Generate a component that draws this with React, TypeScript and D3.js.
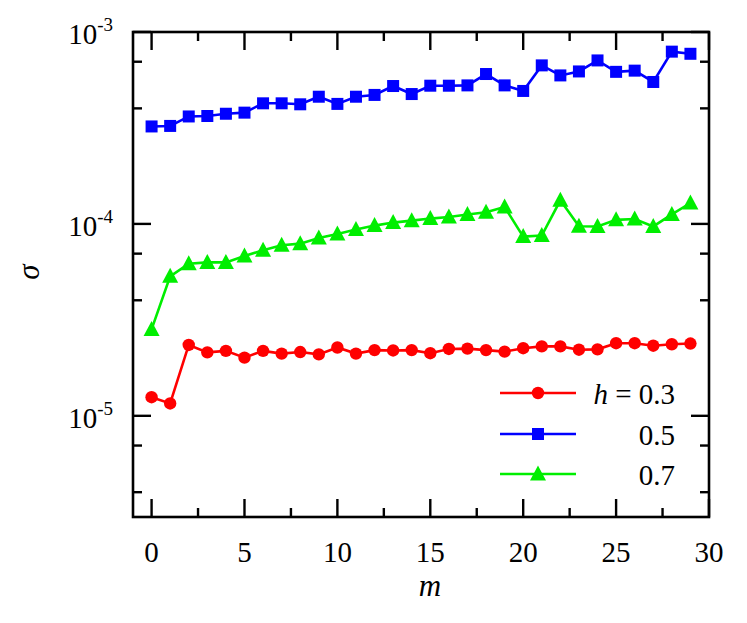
import * as d3 from "d3";

const mValues = d3.range(0, 30);

const sigmaH03 = [
  1.25e-5, 1.16e-5, 2.34e-5, 2.14e-5, 2.18e-5, 2.01e-5, 2.18e-5, 2.11e-5, 2.15e-5, 2.09e-5,
  2.27e-5, 2.11e-5, 2.2e-5, 2.19e-5, 2.2e-5, 2.12e-5, 2.23e-5, 2.24e-5, 2.2e-5, 2.16e-5,
  2.25e-5, 2.3e-5, 2.3e-5, 2.21e-5, 2.22e-5, 2.39e-5, 2.39e-5, 2.32e-5, 2.36e-5, 2.38e-5,
];

const sigmaH05 = [
  3.22e-4, 3.24e-4, 3.63e-4, 3.65e-4, 3.75e-4, 3.8e-4, 4.25e-4, 4.25e-4, 4.2e-4, 4.6e-4,
  4.22e-4, 4.6e-4, 4.7e-4, 5.23e-4, 4.75e-4, 5.25e-4, 5.25e-4, 5.27e-4, 6.04e-4, 5.27e-4,
  4.93e-4, 6.7e-4, 5.94e-4, 6.23e-4, 7.11e-4, 6.2e-4, 6.29e-4, 5.49e-4, 7.9e-4, 7.7e-4,
];

const sigmaH07 = [
  2.82e-5, 5.33e-5, 6.2e-5, 6.3e-5, 6.3e-5, 6.8e-5, 7.29e-5, 7.74e-5, 7.89e-5, 8.45e-5,
  8.87e-5, 9.34e-5, 9.8e-5, 1.016e-4, 1.04e-4, 1.066e-4, 1.087e-4, 1.12e-4, 1.149e-4, 1.226e-4,
  8.59e-5, 8.7e-5, 1.327e-4, 9.72e-5, 9.7e-5, 1.05e-4, 1.06e-4, 9.7e-5, 1.12e-4, 1.285e-4,
];

const xMajorTicks = [0, 5, 10, 15, 20, 25, 30];
const xMinorTicks = [2.5, 7.5, 12.5, 17.5, 22.5, 27.5];
const yMajorTicks = [1e-5, 1e-4, 1e-3];
const yMajorExponents = ["-5", "-4", "-3"];
const yMinorTicks = [4e-6, 7e-6, 4e-5, 7e-5, 4e-4, 7e-4];

const series = [
  { label: "0.3", values: sigmaH03, color: "#ff0000", marker: "circle" },
  { label: "0.5", values: sigmaH05, color: "#0000ff", marker: "square" },
  { label: "0.7", values: sigmaH07, color: "#00ee00", marker: "triangle" },
];

const W = 747;
const H = 623;
const margin = { top: 32, right: 38, bottom: 106, left: 133 };
const FONT = '"Liberation Serif", "DejaVu Serif", serif';

function Marker({ type, x, y, color }: { type: string; x: number; y: number; color: string }) {
  if (type === "circle") return <circle cx={x} cy={y} r={6.2} fill={color} />;
  if (type === "square") return <rect x={x - 6} y={y - 6} width={12} height={12} fill={color} />;
  const s = 7.5;
  return (
    <path
      d={`M${x},${y - s - 1}L${x + s + 0.5},${y + s - 1}L${x - s - 0.5},${y + s - 1}Z`}
      fill={color}
    />
  );
}

export default function App() {
  const x = d3.scaleLinear().domain([-1, 30]).range([margin.left, W - margin.right]);
  const y = d3
    .scaleLog()
    .domain([2.97e-6, 1e-3])
    .range([H - margin.bottom, margin.top]);

  const line = d3
    .line<number>()
    .x((_, i) => x(mValues[i]))
    .y((d) => y(d));

  const left = margin.left;
  const right = W - margin.right;
  const top = margin.top;
  const bottom = H - margin.bottom;

  const legendX1 = 500;
  const legendX2 = 576;
  const legendYs = [393, 434, 474];

  const textStyle = { fontFamily: FONT };

  return (
    <svg
      width={W}
      height={H}
      style={{ position: "absolute", left: 0, top: 0, background: "#fff", fontFamily: FONT }}
    >
      {/* data */}
      {series.map((s) => (
        <g key={s.label}>
          <path d={line(s.values) ?? ""} fill="none" stroke={s.color} strokeWidth={2.6} />
          {s.values.map((v, i) => (
            <Marker key={i} type={s.marker} x={x(mValues[i])} y={y(v)} color={s.color} />
          ))}
        </g>
      ))}

      {/* frame */}
      <rect x={left} y={top} width={right - left} height={bottom - top} fill="none" stroke="#000" strokeWidth={2.6} />

      {/* x ticks */}
      {xMajorTicks.map((t) => (
        <g key={"xM" + t}>
          <line x1={x(t)} x2={x(t)} y1={bottom} y2={bottom - 18} stroke="#000" strokeWidth={2.4} />
          <line x1={x(t)} x2={x(t)} y1={top} y2={top + 18} stroke="#000" strokeWidth={2.4} />
          <text x={x(t)} y={bottom + 45} textAnchor="middle" fontSize={29} style={textStyle}>
            {t}
          </text>
        </g>
      ))}
      {xMinorTicks.map((t) => (
        <g key={"xm" + t}>
          <line x1={x(t)} x2={x(t)} y1={bottom} y2={bottom - 9} stroke="#000" strokeWidth={2.4} />
          <line x1={x(t)} x2={x(t)} y1={top} y2={top + 9} stroke="#000" strokeWidth={2.4} />
        </g>
      ))}

      {/* y ticks */}
      {yMajorTicks.map((t, i) => (
        <g key={"yM" + t}>
          <line x1={left} x2={left + 18} y1={y(t)} y2={y(t)} stroke="#000" strokeWidth={2.4} />
          <line x1={right} x2={right - 18} y1={y(t)} y2={y(t)} stroke="#000" strokeWidth={2.4} />
          <text x={113} y={y(t) + 12} textAnchor="end" fontSize={29} style={textStyle}>
            10
            <tspan dy={-13} fontSize={19}>
              {yMajorExponents[i]}
            </tspan>
          </text>
        </g>
      ))}
      {yMinorTicks.map((t) => (
        <g key={"ym" + t}>
          <line x1={left} x2={left + 9} y1={y(t)} y2={y(t)} stroke="#000" strokeWidth={2.4} />
          <line x1={right} x2={right - 9} y1={y(t)} y2={y(t)} stroke="#000" strokeWidth={2.4} />
        </g>
      ))}

      {/* axis titles */}
      <text x={430} y={596} textAnchor="middle" fontSize={31} fontStyle="italic" style={textStyle}>
        m
      </text>
      <text
        transform={`translate(28, 272) rotate(-90)`}
        textAnchor="middle"
        dominantBaseline="central"
        fontSize={31}
        fontStyle="italic"
        style={textStyle}
      >
        σ
      </text>

      {/* legend */}
      {series.map((s, i) => (
        <g key={"leg" + s.label}>
          <line x1={legendX1} x2={legendX2} y1={legendYs[i]} y2={legendYs[i]} stroke={s.color} strokeWidth={2.6} />
          <Marker type={s.marker} x={(legendX1 + legendX2) / 2} y={legendYs[i]} color={s.color} />
          <text x={675} y={legendYs[i] + 11} textAnchor="end" fontSize={29} style={textStyle}>
            {i === 0 ? (
              <>
                <tspan fontStyle="italic">h</tspan>
                {" = " + s.label}
              </>
            ) : (
              s.label
            )}
          </text>
        </g>
      ))}
    </svg>
  );
}
